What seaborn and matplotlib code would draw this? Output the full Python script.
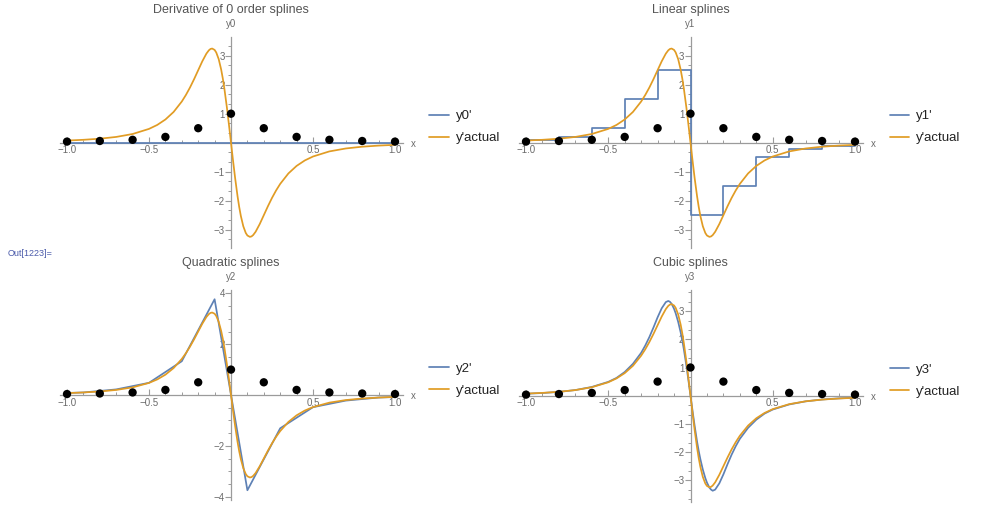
import matplotlib
matplotlib.use("Agg")
import matplotlib.pyplot as plt
from matplotlib.ticker import FixedLocator, MultipleLocator, FuncFormatter
import seaborn as sns

# ---------------- data ----------------
node_x = [-1.0, -0.8, -0.6, -0.4, -0.2, 0.0, 0.2, 0.4, 0.6, 0.8, 1.0]
node_y = [0.038, 0.059, 0.10, 0.20, 0.50, 1.00, 0.50, 0.20, 0.10, 0.059, 0.038]

curve_x = [-1.0, -0.9, -0.8, -0.7, -0.6, -0.5, -0.45, -0.4, -0.35, -0.3, -0.275, -0.25,
           -0.225, -0.2, -0.175, -0.15, -0.135, -0.125, -0.115, -0.1, -0.09, -0.075,
           -0.06, -0.05, -0.04, -0.025, -0.0125, 0.0,
           0.0125, 0.025, 0.04, 0.05, 0.06, 0.075, 0.09, 0.1, 0.115, 0.125, 0.135, 0.15,
           0.175, 0.2, 0.225, 0.25, 0.275, 0.3, 0.35, 0.4, 0.45, 0.5, 0.6, 0.7, 0.8, 0.9, 1.0]

actual_y = [0.074, 0.100, 0.138, 0.199, 0.300, 0.476, 0.612, 0.800, 1.060, 1.420, 1.646, 1.904,
            2.192, 2.500, 2.807, 3.072, 3.186, 3.232, 3.247, 3.200, 3.112, 2.882,
            2.525, 2.215, 1.849, 1.212, 0.620, 0.0,
            -0.620, -1.212, -1.849, -2.215, -2.525, -2.882, -3.112, -3.200, -3.247, -3.232, -3.186, -3.072,
            -2.807, -2.500, -2.192, -1.904, -1.646, -1.420, -1.060, -0.800, -0.612, -0.476, -0.300, -0.199,
            -0.138, -0.100, -0.074]

# 0-order spline derivative
zero_x = [-1.0, 1.0]
zero_y = [0.0, 0.0]

# linear spline derivative (piecewise constant, value on [x_i, x_{i+1}))
lin_x = [-1.0, -0.8, -0.6, -0.4, -0.2, 0.0, 0.2, 0.4, 0.6, 0.8, 1.0]
lin_y = [0.10, 0.21, 0.50, 1.50, 2.50, -2.50, -1.50, -0.50, -0.21, -0.10, -0.10]

# quadratic spline derivative (piecewise linear)
quad_x = [-1.0, -0.9, -0.7, -0.5, -0.3, -0.1, 0.1, 0.3, 0.5, 0.7, 0.9, 1.0]
quad_y = [0.08, 0.10, 0.22, 0.48, 1.33, 3.77, -3.75, -1.31, -0.48, -0.22, -0.10, -0.08]

# cubic spline derivative
cubic_y = [0.070, 0.095, 0.135, 0.200, 0.310, 0.490, 0.630, 0.840, 1.130, 1.520, 1.780, 2.080,
           2.420, 2.780, 3.100, 3.320, 3.360, 3.330, 3.260, 3.080, 2.920, 2.620,
           2.250, 1.960, 1.630, 1.060, 0.540, 0.0,
           -0.540, -1.060, -1.630, -1.960, -2.250, -2.620, -2.920, -3.080, -3.260, -3.330, -3.370, -3.330,
           -3.110, -2.790, -2.430, -2.090, -1.790, -1.530, -1.140, -0.850, -0.635, -0.490, -0.310, -0.200,
           -0.135, -0.095, -0.070]

titles = ["Derivative of 0 order splines", "Linear splines", "Quadratic splines", "Cubic splines"]
ylabels = ["y0", "y1", "y2", "y3"]
legend_labels = [["y0'", "y'actual"], ["y1'", "y'actual"], ["y2'", "y'actual"], ["y3'", "y'actual"]]
y_major = [[-3, -2, -1, 1, 2, 3], [-3, -2, -1, 1, 2, 3], [-4, -2, 2, 4], [-3, -2, -1, 1, 2, 3]]
x_major = [-1.0, -0.5, 0.5, 1.0]

# ---------------- style ----------------
W, H = 985, 508
BLUE = "#5E81B5"
ORANGE = "#E19C24"
AXIS_C = "#9b9b9b"
TICK_C = "#6a6a6a"
TITLE_C = "#555555"

sns.set_style("white")
plt.rcParams["font.family"] = ["Liberation Sans", "DejaVu Sans"]

fig = plt.figure(figsize=(W / 100, H / 100), dpi=100)


def fx(px):
    return px / W


def fy(py):
    return 1 - py / H


xfmt = FuncFormatter(lambda v, p: ("%.1f" % v).replace("-", "\u2212"))
yfmt = FuncFormatter(lambda v, p: ("%d" % round(v)).replace("-", "\u2212"))

# (x0 px, x scale, y0 px, y scale, ylim, minor y step, legend top px)
panels = [
    (231.0, 164.0, 142.7, 29.0, (-3.63, 3.64), 1 / 3, 110.0),
    (690.5, 164.5, 142.7, 29.0, (-3.63, 3.64), 1 / 3, 110.0),
    (231.0, 164.0, 395.0, 25.4, (-4.13, 4.13), 0.5, 362.5),
    (690.5, 164.5, 395.7, 28.2, (-3.76, 3.75), 1 / 3, 363.5),
]
xlim = (-1.04, 1.05)

axes = []
for i, (x0, sx, y0, sy, ylim, ystep, lt) in enumerate(panels):
    left = x0 + xlim[0] * sx
    right = x0 + xlim[1] * sx
    top = y0 - ylim[1] * sy
    bottom = y0 - ylim[0] * sy
    ax = fig.add_axes([fx(left), fy(bottom), (right - left) / W, (bottom - top) / H])
    ax.set_facecolor("none")
    axes.append(ax)

# draw data
series = [(zero_x, zero_y), (lin_x, lin_y), (quad_x, quad_y), (curve_x, cubic_y)]
for i, ax in enumerate(axes):
    sx_, sy_ = series[i]
    kw = dict(drawstyle="steps-post") if i == 1 else {}
    sns.lineplot(x=sx_, y=sy_, ax=ax, color=BLUE, lw=1.25, sort=False, estimator=None,
                 label=legend_labels[i][0], zorder=3, **kw)
    sns.lineplot(x=curve_x, y=actual_y, ax=ax, color=ORANGE, lw=1.25, sort=False, estimator=None,
                 label=legend_labels[i][1], zorder=4)
    sns.scatterplot(x=node_x, y=node_y, ax=ax, color="black", s=36, edgecolor="none",
                    zorder=5, legend=False)

for i, ax in enumerate(axes):
    x0, sx, y0, sy, ylim, ystep, lt = panels[i]
    ax.set_xlim(*xlim)
    ax.set_ylim(*ylim)
    for s in ["top", "right"]:
        ax.spines[s].set_visible(False)
    ax.spines["left"].set_position(("data", 0))
    ax.spines["bottom"].set_position(("data", 0))
    for s in ["left", "bottom"]:
        ax.spines[s].set_color(AXIS_C)
        ax.spines[s].set_linewidth(0.9)
    ax.xaxis.set_major_locator(FixedLocator(x_major))
    ax.xaxis.set_major_formatter(xfmt)
    ax.xaxis.set_minor_locator(MultipleLocator(0.1))
    ax.yaxis.set_major_locator(FixedLocator(y_major[i]))
    ax.yaxis.set_major_formatter(yfmt)
    ax.yaxis.set_minor_locator(MultipleLocator(ystep))
    ax.tick_params(axis="x", which="both", bottom=True, top=False)
    ax.tick_params(axis="y", which="both", left=True, right=False)
    ax.tick_params(axis="x", which="major", direction="in", length=4.5, width=0.8,
                   color=AXIS_C, labelcolor=TICK_C, labelsize=7, pad=2)
    ax.tick_params(axis="x", which="minor", direction="in", length=2.5, width=0.7, color=AXIS_C)
    ax.tick_params(axis="y", which="major", direction="out", length=4, width=0.8,
                   color=AXIS_C, labelcolor=TICK_C, labelsize=7, pad=0.5)
    ax.tick_params(axis="y", which="minor", direction="out", length=2.5, width=0.7, color=AXIS_C)
    ax.set_xlabel("")
    ax.set_ylabel("")
    ax.grid(False)

    # title, axis labels
    top_px = y0 - ylim[1] * sy
    fig.text(fx(x0), fy(top_px - 27), titles[i], ha="center", va="center",
             fontsize=9, color=TITLE_C)
    fig.text(fx(x0), fy(top_px - 13), ylabels[i], ha="center", va="center",
             fontsize=7, color=TICK_C)
    fig.text(fx(x0 + 1.11 * sx), fy(y0 + 1), "x", ha="center", va="center",
             fontsize=7, color=TICK_C)

    # legend
    handles, labels = ax.get_legend_handles_labels()
    leg_left = x0 + 1.21 * sx
    leg = ax.legend(handles, labels, loc="upper left",
                    bbox_to_anchor=(fx(leg_left), fy(lt)),
                    bbox_transform=fig.transFigure, frameon=False, fontsize=9.5,
                    handlelength=1.5, handletextpad=0.5, labelspacing=0.75,
                    borderpad=0, borderaxespad=0)
    for t in leg.get_texts():
        t.set_color("#222222")

fig.text(fx(8), fy(253), "Out[1223]=", ha="left", va="center", fontsize=6.5, color="#4B5BAA")

fig.savefig("out.png", dpi=100)
